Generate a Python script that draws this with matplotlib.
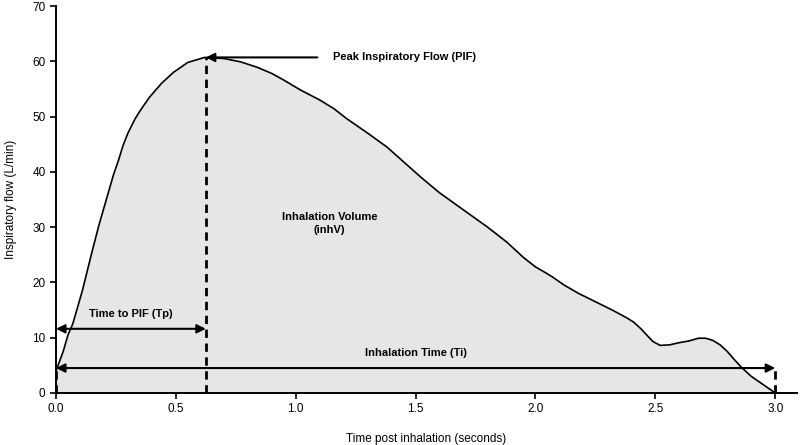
import matplotlib
matplotlib.use("Agg")
import matplotlib.pyplot as plt

plt.rcParams['font.family'] = ['Liberation Sans', 'DejaVu Sans']

time_s = [0.0, 0.03, 0.05, 0.07, 0.09, 0.11, 0.13, 0.15, 0.18, 0.21, 0.24, 0.26,
          0.28, 0.30, 0.33, 0.35, 0.39, 0.44, 0.49, 0.55, 0.62, 0.70, 0.77, 0.84,
          0.90, 0.95, 1.02, 1.10, 1.16, 1.21, 1.30, 1.38, 1.45, 1.52, 1.60, 1.70, 1.80,
          1.88, 1.95, 2.00, 2.04, 2.07, 2.12, 2.18, 2.25, 2.32, 2.38, 2.41, 2.44,
          2.47, 2.49, 2.52, 2.56, 2.60, 2.64, 2.68, 2.71, 2.74, 2.77, 2.80, 2.83,
          2.86, 2.90, 2.95, 3.0]
flow = [4.0, 7.5, 10.5, 12.5, 15.5, 18.5, 22.0, 25.5, 30.5, 35.0, 39.5, 42.0,
        44.8, 47.0, 49.6, 51.0, 53.5, 56.0, 58.0, 59.8, 60.7, 60.5, 59.9, 58.9,
        57.8, 56.6, 54.8, 53.0, 51.4, 49.7, 47.0, 44.5, 41.8, 39.1, 36.2, 33.1, 30.0,
        27.3, 24.5, 22.8, 21.8, 21.0, 19.5, 18.0, 16.5, 15.0, 13.6, 12.8, 11.6,
        10.2, 9.3, 8.6, 8.7, 9.1, 9.4, 9.9, 9.9, 9.5, 8.7, 7.5, 6.0,
        4.6, 3.0, 1.5, 0.0]

pif_time = 0.625
pif_value = 60.7
ti_end = 3.0
tp_level = 11.6
ti_level = 4.5

x_ticks = [0.0, 0.5, 1.0, 1.5, 2.0, 2.5, 3.0]
y_ticks = [0, 10, 20, 30, 40, 50, 60, 70]

fig = plt.figure(figsize=(8, 4.45), dpi=100)
ax = fig.add_axes([0.07, 0.117, 0.926, 0.8695])

ax.fill_between(time_s, flow, 0, color='#e6e6e6', linewidth=0)
ax.plot(time_s, flow, color='black', linewidth=1.2, solid_joinstyle='round')

dash = (0, (3, 2))
ax.plot([pif_time, pif_time], [0, pif_value], color='black', linewidth=2, linestyle=dash)
ax.plot([ti_end, ti_end], [0, ti_level], color='black', linewidth=2, linestyle=dash)
ax.plot([0, 0], [0, ti_level], color='black', linewidth=2, linestyle=dash)

akw = dict(color='black', lw=1.5, shrinkA=0, shrinkB=0, mutation_scale=13)
ax.annotate('', xy=(pif_time, pif_value), xytext=(1.09, pif_value),
            arrowprops=dict(arrowstyle='-|>', **akw))
ax.annotate('', xy=(pif_time, tp_level), xytext=(0, tp_level),
            arrowprops=dict(arrowstyle='<|-|>', **akw))
ax.annotate('', xy=(ti_end, ti_level), xytext=(0, ti_level),
            arrowprops=dict(arrowstyle='<|-|>', **akw))

ax.text(1.155, pif_value, 'Peak Inspiratory Flow (PIF)', fontsize=8,
        fontweight='bold', va='center', ha='left')
ax.text(1.14, 30.7, 'Inhalation Volume\n(inhV)', fontsize=8,
        fontweight='bold', va='center', ha='center', linespacing=1.35)
ax.text(0.31, 13.3, 'Time to PIF (Tp)', fontsize=8, fontweight='bold',
        va='bottom', ha='center')
ax.text(1.5, 6.3, 'Inhalation Time (Ti)', fontsize=8, fontweight='bold',
        va='bottom', ha='center')

ax.set_xlim(0, 3.09)
ax.set_ylim(0, 70)
ax.set_xticks(x_ticks)
ax.set_xticklabels([f'{v:.1f}' for v in x_ticks])
ax.set_yticks(y_ticks)
ax.tick_params(direction='out', length=4, width=1.2, labelsize=8.5, colors='black')
for s in ['top', 'right']:
    ax.spines[s].set_visible(False)
for s in ['left', 'bottom']:
    ax.spines[s].set_linewidth(1.4)

ax.set_xlabel('Time post inhalation (seconds)', fontsize=8.5, labelpad=13)
ax.set_ylabel('Inspiratory flow (L/min)', fontsize=8.5, labelpad=11)

fig.savefig('out.png', dpi=100)
